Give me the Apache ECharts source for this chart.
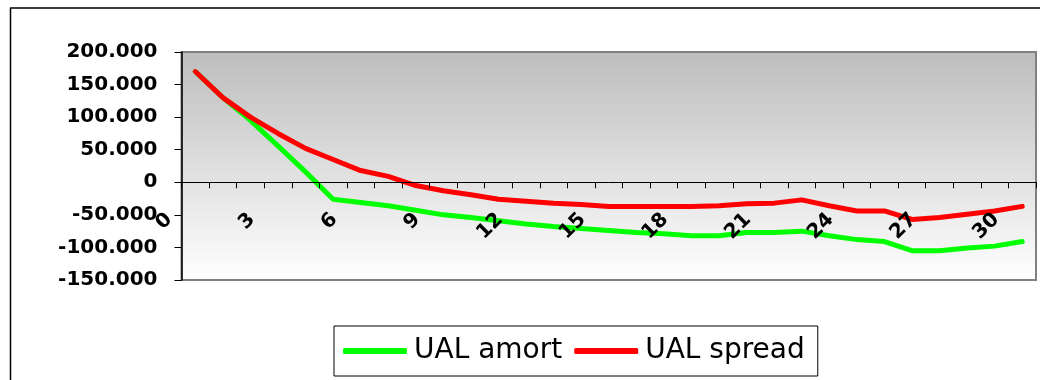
<!DOCTYPE html>
<html>
<head>
<meta charset="utf-8">
<script src="https://cdn.jsdelivr.net/npm/echarts@6/dist/echarts.min.js"></script>
<style>
  html, body { margin: 0; padding: 0; background: #ffffff; }
  #chart { width: 1050px; height: 380px; }
</style>
</head>
<body>
<div id="chart"></div>
<script>
// Years of the projection
const years = ['0','1','2','3','4','5','6','7','8','9','10','11','12','13','14','15',
               '16','17','18','19','20','21','22','23','24','25','26','27','28','29','30'];

// Unfunded actuarial liability under each funding method
const ualAmort = [170000, 130000, 95000, 56000, 16000, -26000, -31000, -36000, -43000, -50000,
                  -54000, -59000, -64000, -68000, -71000, -74000, -77000, -79000, -82000, -82000,
                  -77000, -77000, -75000, -82000, -88000, -91000, -105000, -105000, -101000, -98000, -91000];
const ualSpread = [170000, 130000, 100000, 75000, 52000, 35000, 18000, 9000, -5000, -13000,
                   -19000, -26000, -29000, -32000, -34000, -37000, -37000, -37000, -37000, -36000,
                   -33000, -32000, -27000, -36000, -44000, -44000, -57000, -54000, -49000, -44000, -37000];

const seriesNames = ['UAL amort', 'UAL spread'];
const seriesColors = ['#00ff00', '#ff0000'];

// Value axis range
const yMin = -150000, yMax = 200000, yStep = 50000;

// Plot box in pixels
const gridTop = 52, gridBottom = 100, chartHeight = 380;
const plotHeight = chartHeight - gridTop - gridBottom;
// Distance from the plot bottom up to the zero line, so the category axis sits on zero
const zeroLift = plotHeight * (0 - yMin) / (yMax - yMin);

// Dot as thousands separator: 150000 -> "150.000"
function fmt(v) {
  const s = Math.abs(v).toString().replace(/\B(?=(\d{3})+(?!\d))/g, '.');
  return (v < 0 ? '-' : '') + s;
}

const chart = echarts.init(document.getElementById('chart'), null, { renderer: 'canvas' });

const labelFont = { fontFamily: 'DejaVu Sans', fontWeight: 'bold', fontSize: 20, color: '#000000' };

chart.setOption({
  animation: false,
  backgroundColor: '#ffffff',
  grid: {
    left: 181.5, top: gridTop, right: 14, bottom: gridBottom,
    show: true,
    borderColor: '#808080',
    borderWidth: 2,
    backgroundColor: new echarts.graphic.LinearGradient(0, 0, 0, 1, [
      { offset: 0, color: '#bdbdbd' },
      { offset: 1, color: '#ffffff' }
    ])
  },
  legend: {
    left: 334, top: 326,
    orient: 'horizontal',
    data: seriesNames.map(n => ({ name: n, icon: 'roundRect' })),
    itemWidth: 64, itemHeight: 6, itemGap: 12,
    borderColor: '#000000', borderWidth: 1,
    padding: [10, 13, 10, 9],
    textStyle: { fontFamily: 'DejaVu Sans', fontSize: 28, color: '#000000', lineHeight: 30, padding: [0, 0, 0, 2] }
  },
  xAxis: {
    type: 'category',
    data: years,
    boundaryGap: true,
    position: 'bottom',
    offset: -zeroLift,
    z: 5,
    axisLine: { onZero: false, lineStyle: { color: '#000000', width: 1 } },
    axisTick: { show: true, interval: 0, length: 6, lineStyle: { color: '#000000' } },
    axisLabel: Object.assign({ interval: 2, rotate: 45, margin: 8, padding: [0, 37, 0, 0] }, labelFont),
    splitLine: { show: false }
  },
  yAxis: {
    type: 'value',
    min: yMin, max: yMax, interval: yStep,
    axisLine: { show: true, lineStyle: { color: '#000000', width: 1.5 } },
    axisTick: { show: true, length: 7, lineStyle: { color: '#000000' } },
    axisLabel: Object.assign({ margin: 24, formatter: fmt }, labelFont),
    splitLine: { show: false }
  },
  series: [
    {
      name: seriesNames[0], type: 'line', data: ualAmort,
      symbol: 'none', color: seriesColors[0],
      lineStyle: { width: 5, color: seriesColors[0], join: 'round', cap: 'round' }
    },
    {
      name: seriesNames[1], type: 'line', data: ualSpread,
      symbol: 'none', color: seriesColors[1],
      lineStyle: { width: 5, color: seriesColors[1], join: 'round', cap: 'round' }
    }
  ],
  graphic: [
    { type: 'line', shape: { x1: 10, y1: 8, x2: 1040, y2: 8 }, style: { stroke: '#000000', lineWidth: 1.5 } },
    { type: 'line', shape: { x1: 10.5, y1: 8, x2: 10.5, y2: 380 }, style: { stroke: '#000000', lineWidth: 1.5 } }
  ]
});
</script>
</body>
</html>
